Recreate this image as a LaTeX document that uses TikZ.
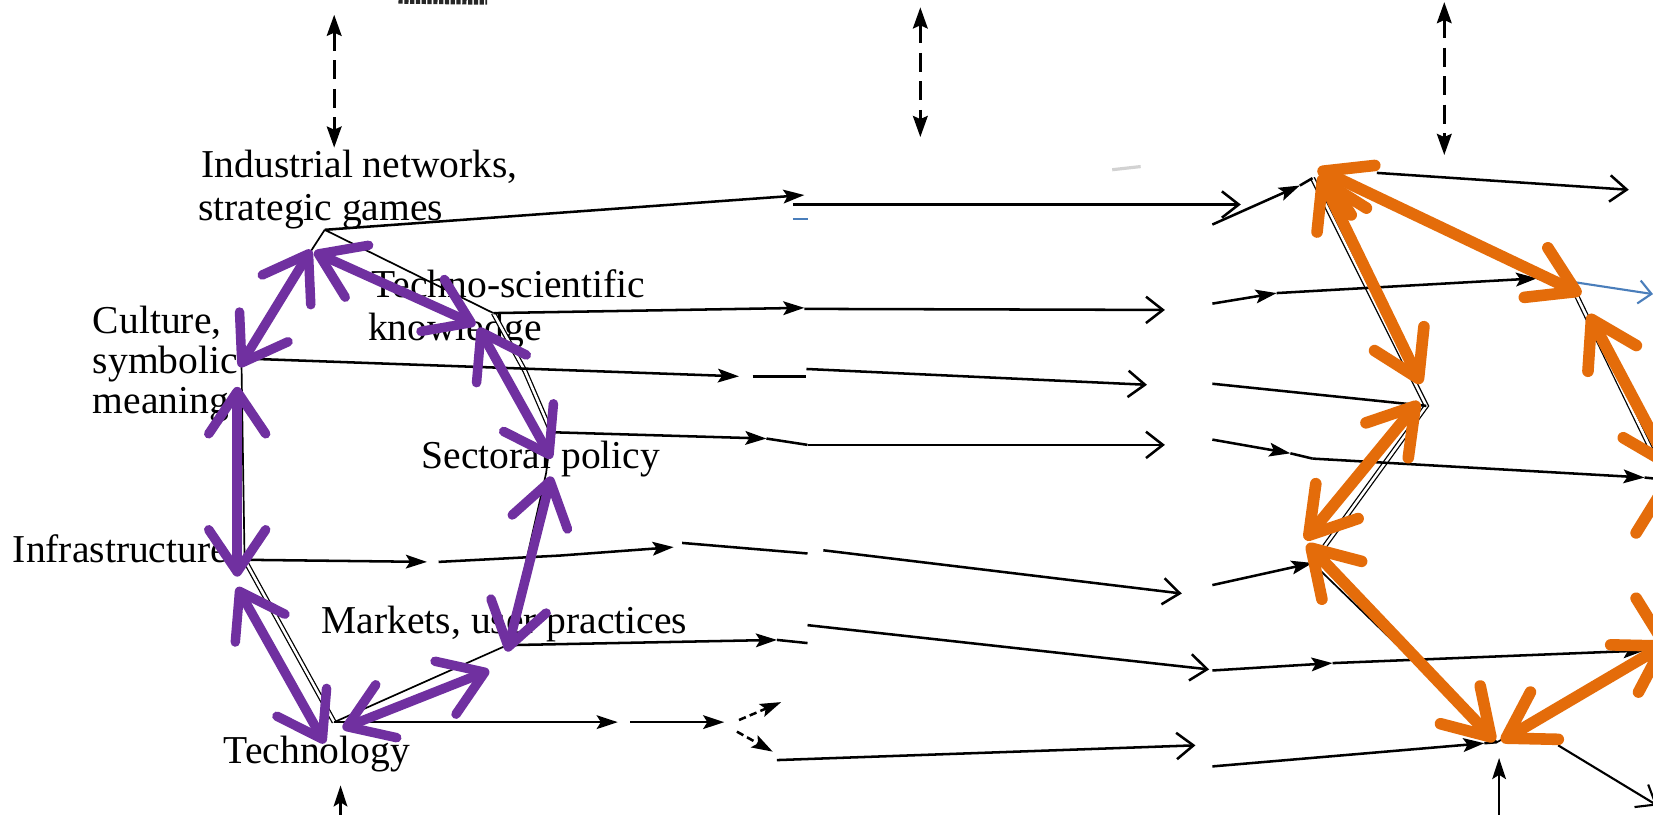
\documentclass[tikz,border=0pt]{standalone}
\usepackage{fontspec}
\setmainfont{Liberation Serif}
\usetikzlibrary{arrows.meta}
\definecolor{purp}{HTML}{7030A0}
\definecolor{orng}{HTML}{E46C0A}
\definecolor{blu}{HTML}{4A7EBB}
\begin{document}
\begin{tikzpicture}[x=1pt,y=-1pt,
  lbl/.style={anchor=base west, inner sep=0pt, font=\fontsize{37.5}{44}\selectfont},
  scan/.style={draw=black, line width=2.4pt},
  mid/.style={scan, -{Stealth[length=20pt,width=13pt,inset=4pt]}},
  ppt/.style={draw=black, line width=2.4pt, -{Straight Barb[length=16pt,width=25pt]}},
  dbl/.style={draw=black, line width=1.2pt, double, double distance=2.4pt},
  vdash/.style={draw=black, line width=2.6pt, dash pattern=on 18pt off 9pt, {Stealth[length=20pt,width=14pt,inset=3pt]}-{Stealth[length=20pt,width=14pt,inset=3pt]}},
  pur/.style={draw=purp, line width=9pt, line cap=round, >={Straight Barb[length=40pt,width=54pt,round]}, <->},
  org/.style={draw=orng, line width=11pt, line cap=round, >={Straight Barb[length=42pt,width=52pt,round]}, <->},
]
\useasboundingbox (0,0) rectangle (1568,773);
\clip (0,0) rectangle (1568,773);
\fill[white] (0,0) rectangle (1568,773);

% ---------- texts (left panel)
\node[lbl] (ind1) at (191,168) {Industrial networks,};
\node[lbl] (ind2) at (188,209) {strategic games};
\node[lbl] (cul1) at (88,316) {Culture,};
\node[lbl] (cul2) at (88,354) {symbolic};
\node[lbl] (cul3) at (88,392) {meaning};
\node[lbl] (tec1) at (352,282) {Techno-scientific};
\node[lbl] (tec2) at (349,323) {knowledge};
\node[lbl] (sec) at (400,444) {Sectoral policy};
\node[lbl] (inf) at (12,534) {Infrastructure};
\node[lbl] (mar) at (305,601) {Markets, user practices};
\node[lbl] (tgy) at (212,724) {Technology};

% ---------- left polygon
\coordinate (lI) at (308,218);
\coordinate (lK) at (468,297);
\coordinate (lK2) at (498,352);
\coordinate (lS) at (523,410);
\coordinate (lS2) at (518,449);
\coordinate (lM) at (481,612);
\coordinate (lT) at (317,685);
\coordinate (lN) at (232,531);
\coordinate (lC) at (229,340);
\draw[scan, line width=1.6pt] (lI) -- (lK) (lS) -- (lS2) -- (lM) -- (lT) (lN) -- (lC) -- (lI);
\draw[dbl] (lK) -- (lK2) -- (lS);
\draw[dbl] (lN) -- (lT);

% ---------- left outgoing lines
\coordinate (l1a) at (763,185);
\draw[mid] (lI) -- (l1a);
\coordinate (l2a) at (763,292);
\draw[mid] (lK) -- (l2a);
\coordinate (l3a) at (701,357);
\coordinate (l3b) at (714,357);
\coordinate (l3c) at (765,357);
\draw[mid] (lC) -- (l3a);
\draw[scan] (l3b) -- (l3c);
\coordinate (l4a) at (727,416);
\coordinate (l4b) at (766,422);
\draw[mid] (lS) -- (l4a);
\draw[scan] (l4a) -- (l4b);
\coordinate (l5a) at (405,533);
\coordinate (l5b) at (416,533);
\coordinate (l5c) at (531,527);
\coordinate (l5d) at (639,519);
\coordinate (l5e) at (647,515);
\coordinate (l5f) at (766,525);
\draw[mid] (lN) -- (l5a);
\draw[mid] (l5b) -- (l5c) -- (l5d);
\draw[scan] (l5e) -- (l5f);
\coordinate (l6a) at (737,607);
\coordinate (l6b) at (766,610);
\draw[mid] (lM) -- (l6a);
\draw[scan] (l6a) -- (l6b);
\coordinate (l7a) at (586,685);
\coordinate (l7b) at (598,685);
\coordinate (l7c) at (687,685);
\coordinate (l7d) at (701,683);
\coordinate (l7e) at (741,666);
\coordinate (l7f) at (699,694);
\coordinate (l7g) at (733,713);
\draw[mid] (lT) -- (l7a);
\draw[mid] (l7b) -- (l7c);
\draw[mid, dash pattern=on 7pt off 4pt] (l7d) -- (l7e);
\draw[mid, dash pattern=on 7pt off 4pt] (l7f) -- (l7g);

% ---------- middle panel lines
\coordinate (m1s) at (752,194); \coordinate (m1e) at (1177,194);
\coordinate (m2s) at (763,293); \coordinate (m2e) at (1105,294);
\coordinate (m3s) at (765,350); \coordinate (m3e) at (1088,365);
\coordinate (m4s) at (766,422); \coordinate (m4e) at (1105,422);
\coordinate (m5s) at (781,522); \coordinate (m5e) at (1121,563);
\coordinate (m6s) at (766,593); \coordinate (m6e) at (1147,635);
\coordinate (m7s) at (737,721); \coordinate (m7e) at (1134,707);
\foreach \i in {1,...,7} {\draw[ppt] (m\i s) -- (m\i e);}
\coordinate (bd1) at (752,208); \coordinate (bd2) at (766,208);
\draw[blu, line width=2pt] (bd1) -- (bd2);

% ---------- dashed verticals, small marks
\coordinate (v1a) at (317,14); \coordinate (v1b) at (317,140);
\coordinate (v2a) at (873,7); \coordinate (v2b) at (873,130);
\coordinate (v3a) at (1370,2); \coordinate (v3b) at (1370,147);
\draw[vdash] (v1a) -- (v1b);
\draw[vdash] (v2a) -- (v2b);
\draw[vdash] (v3a) -- (v3b);
\coordinate (bl1) at (323,773); \coordinate (bl2) at (323,745);
\draw[mid] (bl1) -- (bl2);
\coordinate (tl1) at (378,1); \coordinate (tl2) at (462,2);
\draw[black!85, line width=5pt, dash pattern=on 4pt off 1.5pt] (tl1) -- (tl2);
\coordinate (gm1) at (1055,161); \coordinate (gm2) at (1082,158);
\draw[gray!35, line width=3pt] (gm1) -- (gm2);

% ---------- right panel
\coordinate (A) at (1245,169);
\coordinate (B) at (1489,267);
\coordinate (C) at (1353,385);
\coordinate (D) at (1580,455);
\coordinate (E) at (1245,534);
\coordinate (F) at (1580,617);
\coordinate (G) at (1420,704);
\draw[dbl] (A) -- (C) -- (E);
\draw[dbl] (B) -- (D);
\draw[scan, line width=1.6pt] (E) -- (G) -- (F);

\coordinate (r1s) at (1150,213); \coordinate (r1a) at (1233,176);
\draw[mid] (r1s) -- (r1a); \draw[scan] (r1a) -- (A);
\coordinate (r1o) at (1306,164); \coordinate (r1e) at (1545,180);
\draw[ppt] (r1o) -- (r1e);
\coordinate (r2s) at (1150,288); \coordinate (r2a) at (1211,278); \coordinate (r2b) at (1458,264);
\draw[mid] (r2s) -- (r2a); \draw[mid] (r2a) -- (r2b); \draw[scan] (r2b) -- (B);
\coordinate (r3s) at (1150,364);
\draw[scan] (r3s) -- (C);
\coordinate (r4s) at (1150,417); \coordinate (r4a) at (1224,430); \coordinate (r4b) at (1245,435); \coordinate (r4c) at (1560,453);
\draw[mid] (r4s) -- (r4a); \draw[scan] (r4a) -- (r4b); \draw[mid] (r4b) -- (r4c); \draw[scan] (r4c) -- (D);
\coordinate (r5s) at (1150,555);
\draw[mid] (r5s) -- (E);
\coordinate (r6s) at (1150,636); \coordinate (r6a) at (1264,629); \coordinate (r6b) at (1560,617);
\draw[mid] (r6s) -- (r6a); \draw[mid] (r6a) -- (r6b); \draw[scan] (r6b) -- (F);
\coordinate (r7s) at (1150,727); \coordinate (r7a) at (1408,705);
\draw[mid] (r7s) -- (r7a); \draw[scan] (r7a) -- (G);
\coordinate (r8s) at (1422,773); \coordinate (r8a) at (1422,719);
\draw[mid] (r8s) -- (r8a);
\coordinate (r9s) at (1478,707); \coordinate (r9e) at (1572,764);
\draw[ppt, line width=2pt] (r9s) -- (r9e);
\coordinate (bl) at (1568,279);
\draw[blu, line width=2pt, -{Straight Barb[length=12pt,width=22pt]}] (B) -- (bl);

% ---------- orange arrows
\coordinate (oA1) at (1250,160); \coordinate (oB1) at (1500,279);
\coordinate (oA2) at (1252,166); \coordinate (oC1) at (1348,364);
\coordinate (oC2) at (1346,381); \coordinate (oE1) at (1238,512);
\coordinate (oE2) at (1240,516); \coordinate (oG1) at (1418,703);
\coordinate (oG2) at (1424,703); \coordinate (oF1) at (1582,610);
\coordinate (oB2) at (1507,298); \coordinate (oD1) at (1585,445);
\coordinate (oD2) at (1578,458); \coordinate (oF2) at (1578,615);
\draw[org] (oA1) -- (oB1);
\draw[org] (oA2) -- (oC1);
\draw[org] (oC2) -- (oE1);
\draw[org] (oE2) -- (oG1);
\draw[org] (oG2) -- (oF1);
\draw[org] (oB2) -- (oD1);
\draw[org] (oD2) -- (oF2);

% ---------- purple arrows
\coordinate (p1a) at (295,237); \coordinate (p1b) at (227,348);
\coordinate (p2a) at (298,239); \coordinate (p2b) at (451,308);
\coordinate (p3a) at (454,311); \coordinate (p3b) at (523,435);
\coordinate (p4a) at (225,367); \coordinate (p4b) at (225,547);
\coordinate (p5a) at (523,452); \coordinate (p5b) at (481,618);
\coordinate (p6a) at (225,557); \coordinate (p6b) at (308,705);
\coordinate (p7a) at (325,691); \coordinate (p7b) at (464,636);
\foreach \i in {1,...,7} {\draw[pur] (p\i a) -- (p\i b);}
\end{tikzpicture}
\end{document}
